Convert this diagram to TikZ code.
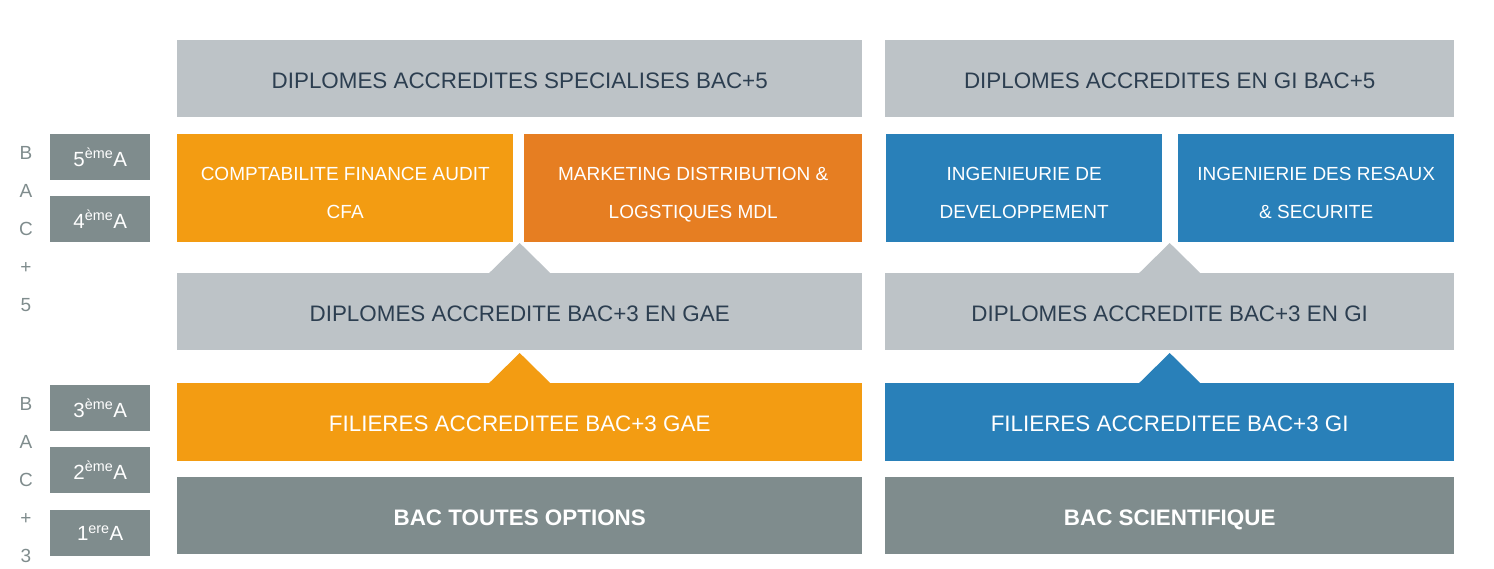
\documentclass[tikz,border=0pt]{standalone}
\usepackage{fontspec}
\setmainfont{Liberation Sans}
\usetikzlibrary{calc}
\definecolor{cOrange}{HTML}{F39C12}
\definecolor{cDarkOrange}{HTML}{E67E22}
\definecolor{cBlue}{HTML}{2980B9}
\definecolor{cLight}{HTML}{BDC3C7}
\definecolor{cDark}{HTML}{7F8C8D}
\definecolor{cInk}{HTML}{2C3E50}
\begin{document}
\begin{tikzpicture}[x=1pt,y=-1pt,
  band/.style={anchor=north west,inner sep=0pt,minimum height=#1,text height=19.5pt,text depth=0pt,
    font=\fontsize{22.4}{26}\selectfont},
  light/.style={band=77pt,fill=cLight,text=cInk},
  tile/.style={anchor=north west,inner sep=0pt,minimum height=108pt,text=white,align=center,
    text height=59.6pt,text depth=0pt,font=\fontsize{19}{38}\selectfont},
  year/.style={anchor=north west,inner sep=0pt,minimum width=100pt,minimum height=46pt,
    fill=cDark,text=white,font=\fontsize{20.5}{22}\selectfont},
  side/.style={text=cDark,font=\fontsize{19}{38}\selectfont,align=center,inner sep=0pt}]
\useasboundingbox (0,0) rectangle (1494,568);

% top row: BAC+5 diploma banners
\node[light,minimum width=685pt] (specTop) at (177,40) {DIPLOMES ACCREDITES SPECIALISES BAC+5};
\node[light,minimum width=569pt] (giTop) at (885,40) {DIPLOMES ACCREDITES EN GI BAC+5};

% specialisations
\node[tile,fill=cOrange,minimum width=336pt] (cfa) at (177,134) {COMPTABILITE FINANCE AUDIT\\CFA};
\node[tile,fill=cDarkOrange,minimum width=338pt] (mdl) at (524,134) {MARKETING DISTRIBUTION \&\\LOGSTIQUES MDL};
\node[tile,fill=cBlue,minimum width=276pt] (idev) at (886,134) {INGENIEURIE DE\\DEVELOPPEMENT};
\node[tile,fill=cBlue,minimum width=276pt] (ires) at (1178,134) {INGENIERIE DES RESAUX\\\& SECURITE};

% BAC+3 diplomas with upward notch
\node[light,minimum width=685pt] (gaeMid) at (177,273) {DIPLOMES ACCREDITE BAC+3 EN GAE};
\node[light,minimum width=569pt] (giMid) at (885,273) {DIPLOMES ACCREDITE BAC+3 EN GI};
\fill[cLight] ($(gaeMid.north)+(-31,0.5)$) -- ($(gaeMid.north)+(0,-30)$) -- ($(gaeMid.north)+(31,0.5)$) -- cycle;
\fill[cLight] ($(giMid.north)+(-31,0.5)$) -- ($(giMid.north)+(0,-30)$) -- ($(giMid.north)+(31,0.5)$) -- cycle;

% BAC+3 tracks with upward notch
\node[band=78pt,fill=cOrange,text=white,minimum width=685pt] (gaeTrack) at (177,383) {FILIERES ACCREDITEE BAC+3 GAE};
\node[band=78pt,fill=cBlue,text=white,minimum width=569pt] (giTrack) at (885,383) {FILIERES ACCREDITEE BAC+3 GI};
\fill[cOrange] ($(gaeTrack.north)+(-31,0.5)$) -- ($(gaeTrack.north)+(0,-30)$) -- ($(gaeTrack.north)+(31,0.5)$) -- cycle;
\fill[cBlue] ($(giTrack.north)+(-31,0.5)$) -- ($(giTrack.north)+(0,-30)$) -- ($(giTrack.north)+(31,0.5)$) -- cycle;

% entry requirements
\node[band=77pt,fill=cDark,text=white,minimum width=685pt,font=\fontsize{22.4}{26}\selectfont\bfseries] (bacAll) at (177,477) {BAC TOUTES OPTIONS};
\node[band=77pt,fill=cDark,text=white,minimum width=569pt,font=\fontsize{22.4}{26}\selectfont\bfseries] (bacSci) at (885,477) {BAC SCIENTIFIQUE};

% study years
\node[year] (y5) at (50,134) {5\textsuperscript{ème}A};
\node[year] (y4) at (50,196) {4\textsuperscript{ème}A};
\node[year] (y3) at (50,385) {3\textsuperscript{ème}A};
\node[year] (y2) at (50,447) {2\textsuperscript{ème}A};
\node[year] (y1) at (50,510) {1\textsuperscript{ere}A};

% vertical level labels
\node[side,anchor=north] (lvl5) at (26,146) {B\\A\\C\\+\\5};
\node[side,anchor=north] (lvl3) at (26,397) {B\\A\\C\\+\\3};
\end{tikzpicture}
\end{document}
